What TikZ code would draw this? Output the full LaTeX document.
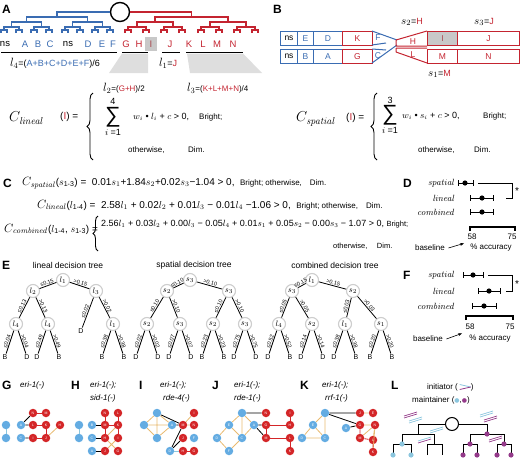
\documentclass[tikz,border=0pt]{standalone}
\usepackage{amsmath}
\usepackage[no-math]{fontspec}
\setmainfont{Liberation Sans}
\newfontfamily\dvs{DejaVu Sans}
\usetikzlibrary{decorations.pathreplacing,calc,arrows.meta}
\definecolor{tblue}{RGB}{58,108,178}
\definecolor{tred}{RGB}{196,36,48}
\definecolor{nblue}{RGB}{100,172,226}
\definecolor{nred}{RGB}{212,38,40}
\definecolor{orng}{RGB}{232,186,112}
\definecolor{lbl}{RGB}{140,198,222}
\definecolor{pur}{RGB}{148,58,138}
\definecolor{cgray}{RGB}{205,205,205}
\definecolor{bgray}{RGB}{200,200,200}
\definecolor{tgray}{RGB}{222,222,222}
\newcommand\fs[1]{\fontsize{#1}{#1}\selectfont}
\begin{document}
\begin{tikzpicture}[x=1pt,y=-1pt,
  tb/.style={draw=tblue,line width=1.2pt},
  tr/.style={draw=tred,line width=1.2pt},
  plab/.style={font=\fs{12}\bfseries,anchor=west,inner sep=0},
  txt/.style={anchor=west,inner sep=0},
  bbx/.style={draw=tblue,line width=1pt,minimum height=14pt,inner sep=0,anchor=north west,font=\fs{8.5}},
  rbx/.style={draw=tred,line width=1pt,minimum height=14pt,inner sep=0,anchor=north west,font=\fs{8.5},text=tred},
  dnode/.style={circle,draw=cgray,line width=1.1pt,fill=white,minimum size=13pt,inner sep=0,font=\fs{8}},
  edl/.style={font=\fs{5.5},sloped,above,inner sep=0.6pt},
  leafl/.style={font=\fs{7},inner sep=0.8pt},
  nb/.style={circle,fill=nblue,minimum size=8.5pt,inner sep=0,font=\fs{3.5},text=white},
  nr/.style={circle,fill=nred,minimum size=8.5pt,inner sep=0,font=\fs{3.5},text=white},
  ne/.style={line width=0.8pt},
  ebar/.style={line width=1pt},
]
\useasboundingbox (0,0) rectangle (520,458);

%%%%%%%%%%%%%%%% Panel A
\node[plab] (pA) at (2,9) {A};
\node[circle,draw,line width=1.4pt,minimum size=19pt,inner sep=0] (root) at (120,12) {};
\draw[tb] (root.west) -- (57,12) -- (57,17);
\draw[tb] (26.5,22) -- (26.5,17) -- (87.5,17) -- (87.5,22);
\draw[tb] (11.5,27) -- (11.5,22) -- (41.5,22) -- (41.5,27);
\draw[tb] (72.5,27) -- (72.5,22) -- (102.5,22) -- (102.5,27);
\foreach \a/\b in {4/19,34/49,65/80,95/110}{\draw[tb] (\a,30) -- (\a,27) -- (\b,27) -- (\b,30);}
\foreach \x in {4,19,34,49,65,80,95,110}{\draw[tb] (\x-3,33) -- (\x-3,30) -- (\x+3,30) -- (\x+3,33);}
\draw[tr] (root.east) -- (191.5,12) -- (191.5,17);
\draw[tr] (155,22) -- (155,17) -- (228,17) -- (228,22);
\draw[tr] (137,27) -- (137,22) -- (173,22) -- (173,27);
\draw[tr] (210,27) -- (210,22) -- (246,22) -- (246,27);
\foreach \a/\b in {128/146,164/182,201/219,237/255}{\draw[tr] (\a,30) -- (\a,27) -- (\b,27) -- (\b,30);}
\foreach \x in {128,146,164,182,201,219,237,255}{\draw[tr] (\x-3,33) -- (\x-3,30) -- (\x+3,30) -- (\x+3,33);}
\fill[bgray] (145,37) rectangle (157,51);
\foreach \t/\x/\c [count=\k] in {ns/5/black,A/25/tblue,B/38/tblue,C/50/tblue,ns/68/black,D/88/tblue,E/102/tblue,F/113/tblue,G/126/tred,H/139/tred,I/151/tred!60!gray,J/170/tred,K/189/tred,L/203/tred,M/217/tred,N/233/tred}
  {\node[font=\fs{9.5},text=\c,inner sep=0] (lf\k) at (\x,44) {\t};}
\draw[line width=0.8pt] (1,52) -- (117,52) (122,52) -- (148,52) (162,52) -- (180,52) (186,52) -- (243,52);
\fill[tgray] (122,53.5) -- (148,53.5) -- (148,73) -- (109,73) -- cycle;
\fill[tgray] (187,53.5) -- (243,53.5) -- (262,73) -- (190,73) -- cycle;
\node[txt,font=\fs{9}] (l4) at (10,63) {\fs{12}$l_{\fs{8}4}$\fs{9}=(\textcolor{tblue}{A+B+C+D+E+F})/6};
\node[txt,font=\fs{9}] (l1) at (159,63) {\fs{12}$l_{\fs{8}1}$\fs{9}=\textcolor{tred}{J}};
\node[txt,font=\fs{8}] (l2) at (103,88) {\fs{12}$l_{\fs{8}2}$\fs{8}=(\textcolor{tred}{G+H})/2};
\node[txt,font=\fs{8}] (l3) at (187,88) {\fs{12}$l_{\fs{8}3}$\fs{8}=(\textcolor{tred}{K+L+M+N})/4};
\node[txt] (Cl) at (9,118) {\fs{14}$C_{\mathit{lineal}}$};
\node[txt,font=\fs{10}] (Ia) at (60,117) {(\textcolor{tred}{I}) =};
\draw[decorate,decoration={brace,amplitude=6pt},line width=0.9pt] (93,160) -- (93,93);
\node[font=\fs{9}] (n4a) at (113,101) {4};
\node[font=\fs{22}] (sa) at (113,117) {∑};
\node[font=\fs{9}] (ia) at (113,132) {$i$ =1};
\node[txt,font=\fs{9}] (wa) at (133,117) {$w_i$ • $l_i$ + $c$ > 0,};
\node[txt,font=\fs{8}] (ba) at (199,117) {Bright;};
\node[txt,font=\fs{8}] (oa) at (128,150) {otherwise,};
\node[txt,font=\fs{8}] (da) at (188,150) {Dim.};

%%%%%%%%%%%%%%%% Panel B
\node[plab] (pB) at (273,9) {B};
\node[bbx,minimum width=17pt] (b1) at (280,31) {ns};
\node[bbx,minimum width=16pt,text=tblue] (b2) at (297,31) {E};
\node[bbx,minimum width=29pt,text=tblue] (b3) at (313,31) {D};
\node[rbx,minimum width=30pt] (b4) at (342,31) {K};
\node[bbx,minimum width=17pt] (b5) at (280,49) {ns};
\node[bbx,minimum width=16pt,text=tblue] (b6) at (297,49) {B};
\node[bbx,minimum width=29pt,text=tblue] (b7) at (313,49) {A};
\node[rbx,minimum width=30pt] (b8) at (342,49) {G};
\draw[tblue,line width=1pt] (372,31) -- (397,40) (372,45) -- (386,43);
\draw[tblue,line width=1pt] (372,63) -- (397,45) (372,49) -- (386,50);
\node[font=\fs{8.5},text=tblue] (bF) at (378,38) {F};
\node[font=\fs{8.5},text=tblue] (bC) at (378,56) {C};
\draw[tred,line width=1pt] (396,40) -- (427,31) (396,46) -- (427,46) (396,40) -- (396,46);
\draw[tred,line width=1pt] (396,48) -- (427,48) (396,52) -- (427,63) (396,48) -- (396,52);
\node[font=\fs{8.5},text=tred] (bH) at (413,42) {H};
\node[font=\fs{8.5},text=tred] (bL) at (413,55) {L};
\fill[bgray] (427,31) rectangle (457,45);
\node[rbx,minimum width=30pt,text=tred!60!gray] (b9) at (427,31) {I};
\node[rbx,minimum width=62pt] (b10) at (457,31) {J};
\node[rbx,minimum width=30pt] (b11) at (427,49) {M};
\node[rbx,minimum width=62pt] (b12) at (457,49) {N};
\node[txt,font=\fs{9}] (s2l) at (401,22) {\fs{11}$s_2$\fs{9}=\textcolor{tred}{H}};
\node[txt,font=\fs{9}] (s3l) at (474,22) {\fs{11}$s_3$\fs{9}=\textcolor{tred}{J}};
\node[txt,font=\fs{9}] (s1l) at (428,74) {\fs{11}$s_1$\fs{9}=\textcolor{tred}{M}};
\node[txt] (Cs) at (296,119) {\fs{14}$C_{\mathit{spatial}}$};
\node[txt,font=\fs{10}] (Ib) at (346,118) {(\textcolor{tred}{I}) =};
\draw[decorate,decoration={brace,amplitude=6pt},line width=0.9pt] (377,160) -- (377,93);
\node[font=\fs{9}] (n3b) at (390,100) {3};
\node[font=\fs{22}] (sb) at (390,115) {∑};
\node[font=\fs{9}] (ib) at (390,130) {$i$ =1};
\node[txt,font=\fs{9}] (wb) at (402,116) {$w_i$ • $s_i$ + $c$ > 0,};
\node[txt,font=\fs{8}] (bb) at (483,116) {Bright;};
\node[txt,font=\fs{8}] (ob) at (418,150) {otherwise,};
\node[txt,font=\fs{8}] (db) at (474,150) {Dim.};

%%%%%%%%%%%%%%%% Panel C
\node[plab] (pC) at (3,183) {C};
\node[txt,font=\fs{9}] (cs) at (22,183) {\fs{12}$C_{\mathit{spatial}}$\fs{10}($s_{\text{1-3}}$) = \ 0.01$s_{1}$+1.84$s_{2}$+0.02$s_{3}$−1.04 > 0,\ \ {\fs{8}Bright; otherwise,\quad Dim.}};
\node[txt,font=\fs{9}] (cl) at (37,205) {\fs{12}$C_{\mathit{lineal}}$\fs{10}($l_{\text{1-4}}$) = \ 2.58$l_{1}$ + 0.02$l_{2}$ + 0.01$l_{3}$ − 0.01$l_{4}$ −1.06 > 0,\ \ {\fs{8}Bright; otherwise,\quad Dim.}};
\node[txt,font=\fs{9}] (cc) at (4,229) {\fs{12}$C_{\mathit{combined}}$\fs{10}($l_{\text{1-4}}$, $s_{\text{1-3}}$) =};
\draw[decorate,decoration={brace,amplitude=5pt},line width=0.9pt] (98,251) -- (98,216);
\node[txt,font=\fs{9}] (cc2) at (101,224) {2.56$l_{1}$ + 0.03$l_{2}$ + 0.00$l_{3}$ − 0.05$l_{4}$ + 0.01$s_{1}$ + 0.05$s_{2}$ − 0.00$s_{3}$ − 1.07 > 0,\ {\fs{7.5}Bright;}};
\node[txt,font=\fs{7.5}] (cc3) at (333,246) {otherwise,\quad\ Dim.};

%%%%%%%%%%%%%%%% Panel D
\node[plab] (pD) at (403,183) {D};
\node[anchor=east,inner sep=0,font=\fs{9}] (dsp) at (455,183) {$\mathit{spatial}$};
\node[anchor=east,inner sep=0,font=\fs{9}] (dli) at (455,198) {$\mathit{lineal}$};
\node[anchor=east,inner sep=0,font=\fs{9}] (dco) at (455,212) {$\mathit{combined}$};
\draw[ebar] (458,183) -- (473,183) (458,180) -- (458,186) (473,180) -- (473,186);
\fill (465,183) circle (2.6);
\draw[ebar] (470,198) -- (493,198) (470,195) -- (470,201) (493,195) -- (493,201);
\fill (482,198) circle (2.6);
\draw[ebar] (470,212) -- (493,212) (470,209) -- (470,215) (493,209) -- (493,215);
\fill (482,212) circle (2.6);
\draw[line width=0.8pt] (478,183) -- (512,183) -- (512,198) -- (506,198);
\node[font=\fs{10}] (dst) at (517,191) {*};
\draw[line width=1.3pt] (470,231) -- (470,227) -- (515,227) -- (515,231);
\node[font=\fs{8}] (d58) at (472,237) {58};
\node[font=\fs{8}] (d75) at (512,237) {75};
\node[font=\fs{8}] (dbl) at (430,248) {baseline};
\node[font=\fs{8}] (dacc) at (491,248) {\% accuracy};
\draw[-{Stealth[length=4pt,width=3pt]},line width=0.6pt] (dbl.east) -- (d58.south west);

%%%%%%%%%%%%%%%% Panel F
\node[plab] (pF) at (403,275) {F};
\node[anchor=east,inner sep=0,font=\fs{9}] (fsp) at (455,275) {$\mathit{spatial}$};
\node[anchor=east,inner sep=0,font=\fs{9}] (fli) at (455,291) {$\mathit{lineal}$};
\node[anchor=east,inner sep=0,font=\fs{9}] (fco) at (455,306) {$\mathit{combined}$};
\draw[ebar] (463,275) -- (483,275) (463,272) -- (463,278) (483,272) -- (483,278);
\fill (473,275) circle (2.6);
\draw[ebar] (478,291) -- (500,291) (478,288) -- (478,294) (500,288) -- (500,294);
\fill (489,291) circle (2.6);
\draw[ebar] (472,306) -- (496,306) (472,303) -- (472,309) (496,303) -- (496,309);
\fill (484,306) circle (2.6);
\draw[line width=0.8pt] (488,275) -- (512,275) -- (512,291) -- (506,291);
\node[font=\fs{10}] (fst) at (517,284) {*};
\draw[line width=1.3pt] (466,320) -- (466,316) -- (513,316) -- (513,320);
\node[font=\fs{8}] (f58) at (470,327) {58};
\node[font=\fs{8}] (f75) at (510,327) {75};
\node[font=\fs{8}] (fbl) at (428,339) {baseline};
\node[font=\fs{8}] (facc) at (490,339) {\% accuracy};
\draw[-{Stealth[length=4pt,width=3pt]},line width=0.6pt] (fbl.east) -- (f58.south west);

%%%%%%%%%%%%%%%% Panel E
\node[plab] (pE) at (2,265) {E};
\node[font=\fs{8.5}] (et1) at (68,265) {lineal decision tree};
\node[font=\fs{8.5}] (et2) at (194,265) {spatial decision tree};
\node[font=\fs{8.5}] (et3) at (335,265) {combined decision tree};
% lineal
\node[dnode] (t1) at (63,280) {$l_1$};
\node[dnode] (t2) at (33,291) {$l_2$};
\node[dnode] (t3) at (96,291) {$l_3$};
\node[dnode] (t4) at (16,324) {$l_4$};
\node[dnode] (t5) at (48,324) {$l_4$};
\node[leafl] (t6) at (81,331) {D};
\node[dnode] (t7) at (113,324) {$l_1$};
\node[leafl] (t4a) at (5,357) {B};
\node[leafl] (t4b) at (27,357) {D};
\node[leafl] (t5a) at (37,357) {D};
\node[leafl] (t5b) at (59,357) {B};
\node[leafl] (t7a) at (102,357) {B};
\node[leafl] (t7b) at (124,357) {B};
% spatial
\node[dnode] (s1) at (190,280) {$s_3$};
\node[dnode] (s2) at (167,291) {$s_2$};
\node[dnode] (s3) at (229,291) {$s_3$};
\node[dnode] (s4) at (147,324) {$s_2$};
\node[dnode] (s5) at (180,324) {$s_3$};
\node[dnode] (s6) at (213,324) {$s_2$};
\node[dnode] (s7) at (245,324) {$s_3$};
\node[leafl] (s4a) at (136,357) {D};
\node[leafl] (s4b) at (158,357) {D};
\node[leafl] (s5a) at (169,357) {D};
\node[leafl] (s5b) at (191,357) {D};
\node[leafl] (s6a) at (202,357) {B};
\node[leafl] (s6b) at (224,357) {B};
\node[leafl] (s7a) at (234,357) {D};
\node[leafl] (s7b) at (256,357) {D};
% combined
\node[dnode] (c1) at (312,280) {$l_1$};
\node[dnode] (c2) at (292,291) {$s_3$};
\node[dnode] (c3) at (353,291) {$s_2$};
\node[dnode] (c4) at (279,324) {$l_4$};
\node[dnode] (c5) at (312,324) {$s_2$};
\node[dnode] (c6) at (345,324) {$l_1$};
\node[dnode] (c7) at (381,324) {$s_1$};
\node[leafl] (c4a) at (268,357) {D};
\node[leafl] (c4b) at (290,357) {B};
\node[leafl] (c5a) at (301,357) {D};
\node[leafl] (c5b) at (323,357) {D};
\node[leafl] (c6a) at (334,357) {D};
\node[leafl] (c6b) at (356,357) {B};
\node[leafl] (c7a) at (370,357) {B};
\node[leafl] (c7b) at (392,357) {B};
\foreach \p/\c/\v in {t1/t2/≤0.15,t2/t4/≤0.13,t3/t6/≤0.02,t4/t4a/≤0.04,t5/t5a/≤0.49,t7/t7a/≤0.38,
  s1/s2/≤0.10,s2/s4/≤0.10,s3/s6/≤0.10,s4/s4a/≤0.02,s5/s5a/≤0.07,s6/s6a/≤0.23,s7/s7a/≤0.75,
  c1/c2/≤0.15,c2/c4/≤0.05,c3/c6/≤0.03,c4/c4a/≤0.52,c5/c5a/≤0.14,c6/c6a/≤0.38,c7/c7a/≤0.20}
  {\draw[line width=0.8pt] (\p) -- node[edl]{\v} (\c);}
\foreach \p/\c/\v in {t1/t3/>0.15,t2/t5/>0.13,t3/t7/>0.02,t4/t4b/>0.04,t5/t5b/>0.49,t7/t7b/>0.38,
  s1/s3/>0.10,s2/s5/>0.10,s3/s7/>0.10,s4/s4b/>0.02,s5/s5b/>0.07,s6/s6b/>0.23,s7/s7b/>0.75,
  c1/c3/>0.15,c2/c5/>0.05,c3/c7/>0.03,c4/c4b/>0.52,c5/c5b/>0.14,c6/c6b/>0.38,c7/c7b/>0.20}
  {\draw[line width=0.8pt] (\p) -- node[edl]{\v} (\c);}

%%%%%%%%%%%%%%%% Panels G-L titles
\node[plab] (pG) at (2,385) {G};
\node[txt,font=\fs{8}\itshape] (gt) at (20,385) {eri-1(-)};
\node[plab] (pH) at (71,385) {H};
\node[txt,font=\fs{8}\itshape] (ht) at (90,385) {eri-1(-);};
\node[txt,font=\fs{8}\itshape] (ht2) at (90,398) {sid-1(-)};
\node[plab] (pI) at (139,385) {I};
\node[txt,font=\fs{8}\itshape] (it) at (160,385) {eri-1(-);};
\node[txt,font=\fs{8}\itshape] (it2) at (163,398) {rde-4(-)};
\node[plab] (pJ) at (212,385) {J};
\node[txt,font=\fs{8}\itshape] (jt) at (234,385) {eri-1(-);};
\node[txt,font=\fs{8}\itshape] (jt2) at (234,398) {rde-1(-)};
\node[plab] (pK) at (300,385) {K};
\node[txt,font=\fs{8}\itshape] (kt) at (322,385) {eri-1(-);};
\node[txt,font=\fs{8}\itshape] (kt2) at (325,398) {rrf-1(-)};
\node[plab] (pL) at (391,385) {L};

%%%%%%%%%%%%%%%% G network
\node[nb] (g1) at (6,425) {};
\node[nb] (g2) at (6,438) {};
\node[nb] (gA) at (21,425) {A};
\node[nb] (gC) at (21,438) {C};
\node[nr] (gN) at (33,413) {N};
\node[nr] (gM) at (46,413) {M};
\node[nr] (gL) at (33,425) {L};
\node[nr] (gK) at (46,425) {K};
\node[nr] (gH) at (60,425) {H};
\node[nr] (gI) at (33,438) {I};
\node[nr] (gJ) at (46,438) {J};
\draw[ne,lbl] (g1) -- (g2);
\draw[ne] (gA) -- (gN) (gA) -- (gL) (gC) -- (gI);
\draw[ne,nred] (gN) -- (gM) (gL) -- (gK) (gK) -- (gJ) (gI) -- (gJ);
\draw[ne,orng] (gJ) -- (gH);

%%%%%%%%%%%%%%%% H network
\node[nb] (h1) at (79,425) {};
\node[nb] (h2) at (79,438) {};
\node[nb] (hB) at (92,425) {B};
\node[nb] (hC) at (92,438) {C};
\node[nb] (hA) at (92,451) {A};
\node[nr] (hN) at (105,413) {N};
\node[nr] (hL) at (118,413) {L};
\node[nr] (hM) at (105,425) {M};
\node[nr] (hK) at (118,425) {K};
\node[nr] (hH) at (105,438) {H};
\node[nr] (hI) at (118,438) {I};
\node[nr] (hJ) at (105,451) {J};
\node[nr] (hG) at (118,451) {G};
\draw[ne,lbl] (h1) -- (h2);
\draw[ne] (hB) -- (hM) (hA) -- (hJ) (hC) -- (hH);
\draw[ne,nred] (hN) -- (hM) (hL) -- (hK) (hM) -- (hK) (hK) -- (hI) (hM) -- (hH);
\draw[ne,orng] (hH) -- (hG) (hI) -- (hJ) (hK) -- (hH);

%%%%%%%%%%%%%%%% I network
\node[nb] (i1) at (157,413) {};
\node[nb] (iC) at (144,425) {};
\node[nb] (i2) at (157,438) {};
\node[nb] (iA) at (172,425) {A};
\node[nr] (iM) at (183,425) {M};
\node[nr] (iI) at (194,413) {I};
\node[nr] (iN) at (194,425) {N};
\node[nr] (iJ) at (183,438) {J};
\node[nb] (iF) at (194,438) {F};
\node[nb] (iD) at (170,451) {D};
\node[nr] (iH) at (183,451) {H};
\node[nr] (iG) at (194,451) {G};
\draw[ne,orng] (iC) -- (i1) (iC) -- (i2) (i1) -- (iA) (i2) -- (iA) (i1) -- (i2) (iC) -- (iA) (iM) -- (iI) (iM) -- (iN);
\draw[ne] (i1) -- (iM) (iA) -- (iM) (iD) -- (iM) (iD) -- (iJ);
\draw[ne,nred] (iH) -- (iG);
\draw[ne,lbl] (iD) -- (iH);

%%%%%%%%%%%%%%%% J network
\node[nb] (j1) at (242,413) {};
\node[nr] (jN) at (266,413) {N};
\node[nr] (jI) at (290,413) {I};
\node[nb] (jE) at (229,425) {E};
\node[nb] (jA) at (254,425) {A};
\node[nr] (jG) at (266,425) {G};
\node[nr] (jH) at (290,425) {H};
\node[nb] (jD) at (217,438) {D};
\node[nb] (jC) at (242,438) {C};
\node[nr] (jM) at (266,438) {M};
\node[nr] (jL) at (290,438) {L};
\node[nb] (jF) at (229,451) {F};
\node[nr] (jK) at (290,451) {K};
\draw[ne,orng] (j1) -- (jE) (j1) -- (jC) (jE) -- (jD) (jE) -- (jC) (jD) -- (jF) (jF) -- (jC) (j1) -- (jA) (jA) -- (jC);
\draw[ne] (j1) -- (jN) (jA) -- (jG) (jA) -- (jM);
\draw[ne,nred] (jG) -- (jH) (jG) -- (jM) (jM) -- (jL) (jL) -- (jK) (jI) -- (jH);

%%%%%%%%%%%%%%%% K network
\node[nb] (k1) at (325,413) {};
\node[nb] (kE) at (313,425) {E};
\node[nb] (kD) at (302,438) {D};
\node[nb] (kC) at (325,438) {C};
\node[nb] (kA) at (346,428) {A};
\node[nr] (kJ) at (360,413) {J};
\node[nr] (kB) at (373,413) {E};
\node[nr] (kG) at (360,425) {G};
\node[nr] (kN) at (375,425) {N};
\node[nr] (kM) at (360,438) {M};
\node[nr] (kL) at (373,440) {L};
\node[nr] (kK) at (373,452) {K};
\draw[ne,orng] (k1) -- (kE) (kE) -- (kD) (kE) -- (kC) (kD) -- (kC) (k1) -- (kC) (kJ) -- (kB) (kG) -- (kN) (kN) -- (kL) (kN) -- (kK) (kM) -- (kN);
\draw[ne] (k1) -- (kJ) (k1) -- (kG) (kA) -- (kG);
\draw[ne,nred] (kG) -- (kM) (kM) -- (kL) (kL) -- (kK);

%%%%%%%%%%%%%%%% L panel
\node[txt,font=\fs{8}] (Lin) at (427,387) {initiator (\hspace{13pt})};
\draw[lbl,line width=0.8pt] ($(Lin.east)+(-14,-2.5)$) -- ($(Lin.east)+(-3,0)$);
\draw[pur,line width=0.8pt] ($(Lin.east)+(-14,2.5)$) -- ($(Lin.east)+(-3,0)$);
\node[txt,font=\fs{8}] (Lma) at (412,400) {maintainer ({\dvs\fs{6}\textcolor{lbl}{●}},{\dvs\fs{6}\textcolor{pur}{●}})};
\node[circle,draw,line width=1pt,minimum size=13pt,inner sep=0] (Lr) at (452,424) {};
\draw[line width=1pt] (Lr.west) -- (418,424) -- (418,434);
\draw[line width=1pt] (402,444) -- (402,434) -- (434,434) -- (434,444);
\draw[line width=1pt] (393,455) -- (393,444) -- (411,444) -- (411,455);
\draw[line width=1pt] (427,455) -- (427,444) -- (442,444) -- (442,455);
\draw[line width=1pt] (Lr.east) -- (487,424) -- (487,434);
\draw[line width=1pt] (470,444) -- (470,434) -- (504,434) -- (504,444);
\draw[line width=1pt] (463,455) -- (463,444) -- (477,444) -- (477,455);
\draw[line width=1pt] (497,455) -- (497,444) -- (511,444) -- (511,455);
\foreach \x/\y in {402/444,393/455,411/455}{\fill[lbl] (\x,\y) circle (2.6);}
\foreach \x/\y in {487/434,463/455,477/455,497/455,511/455,504/444,470/444}{\fill[pur] (\x,\y) circle (2.6);}
\foreach \x/\y/\ca/\cb in {404/416/pur/pur,409/421/lbl/lbl,430/431/lbl/lbl,418/441/lbl/pur,480/415/lbl/lbl,484/420/pur/pur,489/440/pur/pur}{
  \draw[\ca,line width=0.7pt] (\x,\y) -- ++(13,-4);
  \draw[\cb,line width=0.7pt] (\x,\y+2) -- ++(13,-4);}
\end{tikzpicture}
\end{document}
